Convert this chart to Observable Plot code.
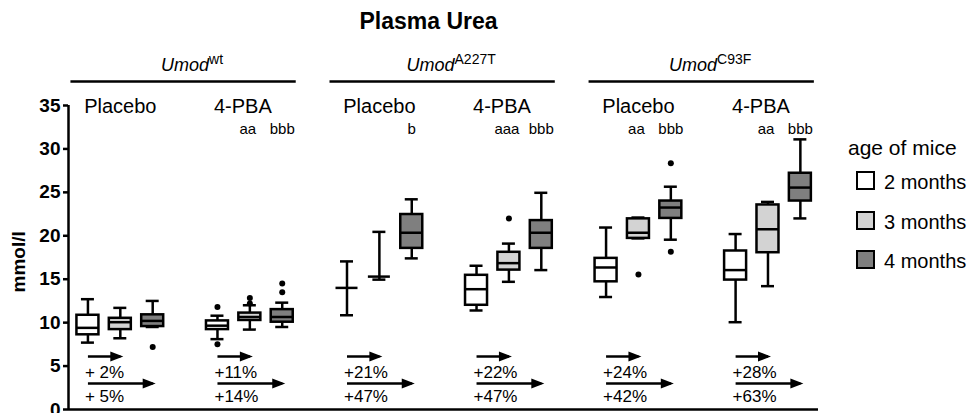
<!DOCTYPE html>
<html><head><meta charset="utf-8">
<script src="https://cdn.jsdelivr.net/npm/d3@7"></script>
<script src="https://cdn.jsdelivr.net/npm/@observablehq/plot@0.6"></script>
<style>
body{margin:0;background:#fff;}
#wrap{position:relative;width:969px;height:413px;font-family:"Liberation Sans",Arial,sans-serif;color:#000;}
#wrap svg{position:absolute;left:0;top:0;}
.lg{position:absolute;font-size:20px;line-height:1;white-space:nowrap;}
.sw{position:absolute;width:15px;height:15px;border:2.5px solid #000;}
</style></head><body><div id="wrap"></div>
<script>
const title = "Plasma Urea";
const yLabel = "mmol/l";
const legendTitle = "age of mice";
const genotypes = ["wt", "A227T", "C93F"];
const treatments = ["Placebo", "4-PBA"];
const ages = ["2 months", "3 months", "4 months"];
const ageFills = ["#ffffff", "#d3d3d3", "#7f7f7f"];
const yTicks = [0, 5, 10, 15, 20, 25, 30, 35];

// 18 boxes, ordered genotype -> treatment -> age
const whiskerLow  = [7.7, 8.2, 9.5,   8.1, 9.2, 9.5,    10.85, 14.95, 17.4,  11.4, 14.7, 16.05,  12.95, 19.7, 19.55,  10.05, 14.2, 22.0];
const quartile1   = [8.6, 9.2, 9.55,  9.2, 10.25, 10.05, 14.0, 15.3, 18.55,  12.0, 16.05, 18.55,  14.7, 19.7, 22.0,    14.9, 18.05, 24.0];
const median      = [9.4, 10.05, 10.2, 9.65, 10.65, 10.65, 14.0, 15.3, 20.35, 13.85, 16.85, 20.35, 16.35, 20.35, 23.25, 16.05, 20.75, 25.55];
const quartile3   = [10.85, 10.5, 10.9, 10.2, 11.1, 11.5, 14.0, 15.3, 22.45, 15.45, 18.1, 21.75,  17.4, 21.95, 24.0,   18.25, 23.55, 27.2];
const whiskerHigh = [12.7, 11.7, 12.5, 10.8, 12.0, 12.3, 17.05, 20.45, 24.2, 16.55, 19.1, 24.95,  20.95, 22.1, 25.65,  20.2, 23.9, 31.1];

const outlierBox   = [2, 3, 3, 4, 4, 5, 5, 10, 13, 14, 14];
const outlierValue = [7.2, 11.8, 7.5, 12.2, 12.85, 13.5, 14.5, 22.0, 15.55, 28.35, 18.15];

// per panel (genotype x treatment)
const sigMonth3 = ["", "aa", "", "aaa", "aa", "aa"];
const sigMonth4 = ["", "bbb", "b", "bbb", "bbb", "bbb"];
const pctMonth3 = ["+ 2%", "+11%", "+21%", "+22%", "+24%", "+28%"];
const pctMonth4 = ["+ 5%", "+14%", "+47%", "+47%", "+42%", "+63%"];

// ---- derived tables ----
const slot = (p, a) => p * 4 + a;
const boxes = whiskerLow.map((lo, i) => {
  const p = Math.floor(i / 3), a = i % 3;
  return {p, a, age: ages[a], slot: slot(p, a), lo, q1: quartile1[i], med: median[i], q3: quartile3[i], hi: whiskerHigh[i]};
});
const outs = outlierBox.map((b, i) => ({slot: boxes[b].slot, v: outlierValue[i]}));
const panels = d3.range(genotypes.length * treatments.length);
const genos = d3.range(genotypes.length);
const xDomain = [-0.6, 22.56];

const head = {
  draw(ctx) { ctx.moveTo(3, 0); ctx.lineTo(-10, -5); ctx.lineTo(-10, 5); ctx.closePath(); }
};
const SW = 2.5;

const plot = Plot.plot({
  width: 969, height: 413,
  marginTop: 105, marginBottom: 4, marginLeft: 68, marginRight: 151,
  style: {fontFamily: "'Liberation Sans', Arial, sans-serif", color: "#000", background: "transparent"},
  x: {type: "linear", domain: xDomain, axis: null},
  y: {domain: [0, 35]},
  color: {domain: ages, range: ageFills},
  marks: [
    Plot.axisY(yTicks, {tickSize: 5, tickPadding: 3, fontSize: 19, fontWeight: "bold", strokeWidth: SW, label: null}),
    Plot.ruleX([xDomain[0]], {stroke: "#000", strokeWidth: SW}),
    Plot.ruleY([0], {stroke: "#000", strokeWidth: SW}),
    // whiskers
    Plot.ruleX(boxes, {x: "slot", y1: "lo", y2: "hi", stroke: "#000", strokeWidth: SW}),
    Plot.ruleY(boxes, {x1: "slot", x2: "slot", y: "lo", insetLeft: -6.5, insetRight: -6.5, stroke: "#000", strokeWidth: SW}),
    Plot.ruleY(boxes, {x1: "slot", x2: "slot", y: "hi", insetLeft: -6.5, insetRight: -6.5, stroke: "#000", strokeWidth: SW}),
    // boxes
    Plot.rect(boxes, {x1: "slot", x2: "slot", y1: "q1", y2: "q3", insetLeft: -11, insetRight: -11, fill: "age", stroke: "#000", strokeWidth: SW}),
    Plot.ruleY(boxes, {x1: "slot", x2: "slot", y: "med", insetLeft: -11, insetRight: -11, stroke: "#000", strokeWidth: SW}),
    Plot.dot(outs, {x: "slot", y: "v", r: 3, fill: "#000"}),
    // arrows
    Plot.link(panels, {x1: p => slot(p, 0), x2: p => slot(p, 1), y1: 0, y2: 0, dy: -53, stroke: "#000", strokeWidth: SW}),
    Plot.dot(panels, {x: p => slot(p, 1), y: 0, dy: -53, symbol: head, r: 3, fill: "#000", stroke: null}),
    Plot.link(panels, {x1: p => slot(p, 0), x2: p => slot(p, 2), y1: 0, y2: 0, dy: -26, stroke: "#000", strokeWidth: SW}),
    Plot.dot(panels, {x: p => slot(p, 2), y: 0, dy: -26, symbol: head, r: 3, fill: "#000", stroke: null}),
    Plot.text(panels, {x: p => slot(p, 0), y: 0, text: p => pctMonth3[p], textAnchor: "start", lineAnchor: "bottom", dx: -3, dy: -32, fontSize: 17}),
    Plot.text(panels, {x: p => slot(p, 0), y: 0, text: p => pctMonth4[p], textAnchor: "start", lineAnchor: "bottom", dx: -3, dy: -7.5, fontSize: 17}),
    // treatment labels and significance
    Plot.text(panels.filter(p => p % 2 === 0), {x: p => slot(p, 1), text: p => treatments[p % 2], frameAnchor: "top", lineAnchor: "bottom", dy: 7.5, fontSize: 20}),
    Plot.text(panels.filter(p => p % 2 === 1), {x: p => slot(p, 1), text: p => treatments[p % 2], frameAnchor: "top", lineAnchor: "bottom", dx: -7, dy: 7.5, fontSize: 20}),
    Plot.text(panels, {x: p => slot(p, 1), text: p => sigMonth3[p], frameAnchor: "top", lineAnchor: "bottom", dx: -2, dy: 28, fontSize: 15}),
    Plot.text(panels, {x: p => slot(p, 2), text: p => sigMonth4[p], frameAnchor: "top", lineAnchor: "bottom", dy: 28, fontSize: 15}),
    // genotype headers
    Plot.ruleY(genos, {x1: g => g * 8, x2: g => g * 8 + 6, y: 35, dy: -24, insetLeft: -17, insetRight: -14, stroke: "#000", strokeWidth: SW}),
    Plot.text(genos, {x: g => g * 8 + 3, text: g => genotypes[g], frameAnchor: "top", lineAnchor: "bottom", dx: 7, dy: -35, fontSize: 18}),
    // title and y label
    Plot.text([title], {frameAnchor: "top", lineAnchor: "bottom", dx: -15, dy: -77, fontSize: 23, fontWeight: "bold"}),
    Plot.text([yLabel], {frameAnchor: "left", rotate: -90, dx: -50, dy: 35, fontSize: 19, fontWeight: "bold"})
  ]
});

// genotype headers: italic "Umod" with superscript allele
plot.querySelectorAll("text").forEach(t => {
  const s = t.textContent;
  if (genotypes.includes(s) && t.children.length === 0) {
    t.textContent = "";
    const ns = "http://www.w3.org/2000/svg";
    const a = document.createElementNS(ns, "tspan");
    a.setAttribute("font-style", "italic");
    a.textContent = "Umod";
    const b = document.createElementNS(ns, "tspan");
    b.setAttribute("font-size", "14");
    b.setAttribute("dy", "-7");
    b.textContent = s;
    t.appendChild(a); t.appendChild(b);
  }
});

const wrap = document.getElementById("wrap");
wrap.appendChild(plot);

// legend
const lt = document.createElement("div");
lt.className = "lg"; lt.style.left = "848px"; lt.style.top = "137px"; lt.style.fontSize = "21px"; lt.textContent = legendTitle;
wrap.appendChild(lt);
ages.forEach((a, i) => {
  const top = 171 + i * 39.5;
  const sw = document.createElement("div");
  sw.className = "sw"; sw.style.left = "856px"; sw.style.top = top + "px"; sw.style.background = ageFills[i];
  wrap.appendChild(sw);
  const lb = document.createElement("div");
  lb.className = "lg"; lb.style.left = "884px"; lb.style.top = (top + 1) + "px"; lb.textContent = a;
  wrap.appendChild(lb);
});
</script></body></html>
